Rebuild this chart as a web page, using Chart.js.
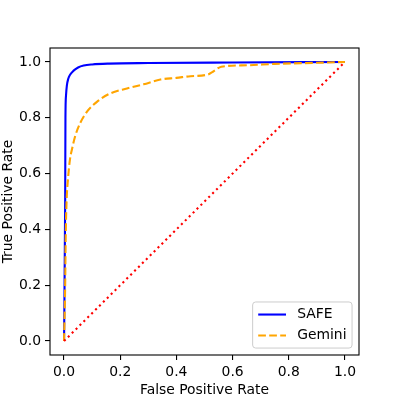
<!DOCTYPE html>
<html>
<head>
<meta charset="utf-8">
<script src="https://cdn.jsdelivr.net/npm/chart.js@4/dist/chart.umd.min.js"></script>
<style>
  html, body { margin: 0; padding: 0; background: #fff; }
  #wrap { width: 399px; height: 399px; }
</style>
</head>
<body>
<div id="wrap"><canvas id="roc" width="399" height="399"></canvas></div>
<script>
// ROC points
const safeFpr = [0, 0.004, 0.005, 0.007, 0.01, 0.015, 0.022, 0.033, 0.05, 0.07, 0.1, 0.16, 0.3, 0.6, 1.0];
const safeTpr = [0, 0.5, 0.8, 0.88, 0.915, 0.94, 0.955, 0.968, 0.98, 0.987, 0.991, 0.994, 0.996, 0.998, 1.0];

const geminiFpr = [0, 0.004, 0.006, 0.009, 0.014, 0.021, 0.03, 0.039, 0.057, 0.081, 0.117, 0.164, 0.224, 0.283, 0.343, 0.4, 0.45, 0.512, 0.53, 0.56, 0.65, 0.75, 0.9, 1.0];
const geminiTpr = [0, 0.2, 0.38, 0.5, 0.58, 0.65, 0.695, 0.732, 0.78, 0.821, 0.857, 0.887, 0.905, 0.92, 0.937, 0.943, 0.949, 0.955, 0.965, 0.983, 0.988, 0.993, 0.997, 1.0];

const chanceFpr = [0, 1];
const chanceTpr = [0, 1];

const tickValues = [0, 0.2, 0.4, 0.6, 0.8, 1.0];

const FONT = { family: 'DejaVu Sans', size: 13.9 };

function toPoints(xs, ys) {
  return xs.map((x, i) => ({ x: x, y: ys[i] }));
}

// draws the box round the axes
const framePlugin = {
  id: 'frame',
  afterDraw(chart) {
    const a = chart.chartArea;
    const ctx = chart.ctx;
    ctx.save();
    ctx.strokeStyle = '#000';
    ctx.lineWidth = 1.1;
    ctx.strokeRect(a.left, a.top, a.right - a.left, a.bottom - a.top);
    ctx.restore();
  }
};

// legend in the lower right corner, matplotlib style
const legendPlugin = {
  id: 'cornerLegend',
  afterDatasetsDraw(chart) {
    const a = chart.chartArea;
    const ctx = chart.ctx;
    const fs = FONT.size;
    const items = chart.data.datasets.filter(d => d.label);
    ctx.save();
    ctx.font = fs + 'px "DejaVu Sans"';
    const textW = Math.max(...items.map(d => ctx.measureText(d.label).width));
    const pad = 0.4 * fs, rowH = 14, gap = 0.5 * fs;
    const handle = 2.0 * fs, hpad = 0.8 * fs;
    const w = pad * 2 + handle + hpad + textW;
    const h = pad * 2 + rowH * items.length + gap * (items.length - 1);
    const x = a.right - 0.5 * fs - w;
    const y = a.bottom - 0.5 * fs - h;

    ctx.beginPath();
    ctx.roundRect(x, y, w, h, 3);
    ctx.fillStyle = 'rgba(255,255,255,0.8)';
    ctx.fill();
    ctx.strokeStyle = '#cccccc';
    ctx.lineWidth = 1;
    ctx.stroke();

    items.forEach((d, i) => {
      const cy = y + pad + rowH * i + gap * i + rowH / 2;
      ctx.beginPath();
      ctx.strokeStyle = d.borderColor;
      ctx.lineWidth = d.borderWidth;
      ctx.setLineDash(d.borderDash || []);
      ctx.moveTo(x + pad, cy);
      ctx.lineTo(x + pad + handle, cy);
      ctx.stroke();
      ctx.setLineDash([]);
      ctx.fillStyle = '#000';
      ctx.textBaseline = 'middle';
      ctx.fillText(d.label, x + pad + handle + hpad, cy);
    });
    ctx.restore();
  }
};

function fixedTicks(scale) {
  scale.ticks = tickValues.map(v => ({ value: v }));
}

const axisCommon = {
  type: 'linear',
  min: -0.05,
  max: 1.05,
  afterBuildTicks: fixedTicks,
  grid: { drawOnChartArea: false, drawTicks: true, tickLength: 5, color: '#000', lineWidth: 1.1 },
  border: { display: false },
  ticks: { color: '#000', font: FONT, padding: 4, maxRotation: 0, callback: v => v.toFixed(1) }
};

new Chart(document.getElementById('roc'), {
  type: 'line',
  data: {
    datasets: [
      {
        label: 'SAFE',
        data: toPoints(safeFpr, safeTpr),
        borderColor: '#0000ff',
        borderWidth: 2.1,
        pointRadius: 0,
        cubicInterpolationMode: 'monotone',
        order: 3
      },
      {
        label: 'Gemini',
        data: toPoints(geminiFpr, geminiTpr),
        borderColor: '#ffa500',
        borderWidth: 2.1,
        borderDash: [7.7, 3.3],
        pointRadius: 0,
        cubicInterpolationMode: 'monotone',
        order: 2
      },
      {
        label: '',
        data: toPoints(chanceFpr, chanceTpr),
        borderColor: '#ff0000',
        borderWidth: 2.1,
        borderDash: [2.1, 3.4],
        pointRadius: 0,
        order: 1
      }
    ]
  },
  options: {
    responsive: false,
    animation: false,
    devicePixelRatio: 1,
    layout: { padding: { top: 48, right: 40, left: 0, bottom: 0 } },
    plugins: { legend: { display: false }, tooltip: { enabled: false } },
    scales: {
      x: Object.assign({}, axisCommon, {
        afterFit: s => { s.height = 44; },
        title: { display: true, text: 'False Positive Rate', color: '#000', font: FONT, padding: { top: 1, bottom: 0 } }
      }),
      y: Object.assign({}, axisCommon, {
        afterFit: s => { s.width = 50; },
        title: { display: true, text: 'True Positive Rate', color: '#000', font: FONT, padding: { top: 0, bottom: 2 } }
      })
    }
  },
  plugins: [framePlugin, legendPlugin]
});
</script>
</body>
</html>
